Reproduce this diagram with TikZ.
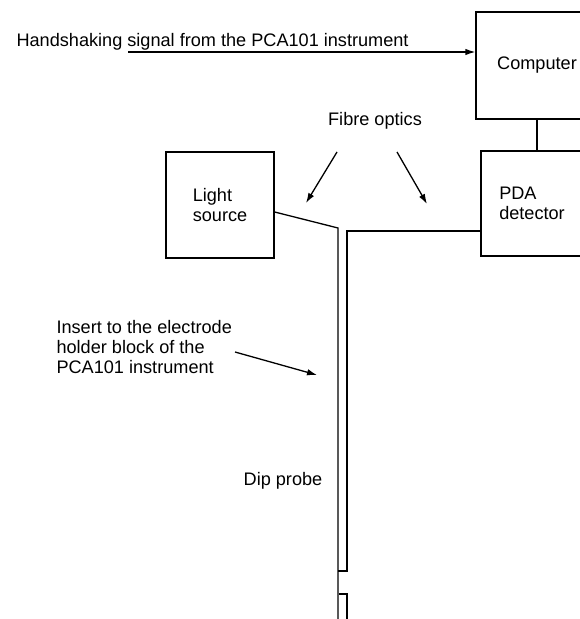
\documentclass[tikz,border=0pt]{standalone}
\usepackage{fontspec}
\setmainfont{Liberation Sans}
\usetikzlibrary{arrows.meta,positioning}

\begin{document}
\begin{tikzpicture}[
    x=1bp, y=-1bp,
    every node/.style={font=\fontsize{18.2}{20}\selectfont},
    box/.style={draw, line width=1.3bp, align=left, inner sep=0pt},
    arr/.style={-{Latex[length=10bp, width=6.5bp]}, line width=1.3bp},
    fibre/.style={line width=1.3bp}
]
\useasboundingbox (0,0) rectangle (580,619);
\clip (0,0) rectangle (580,619);
\node[box, minimum width=108bp, minimum height=106bp] (light) at (220,205) {Light\\source};
\node[box, minimum width=122bp, minimum height=107bp] (computer) at (537,65.5) {Computer};
\node[box, minimum width=102bp, minimum height=105bp] (pda) at (532,203.5) {PDA\\detector};
\node[anchor=west] (hand) at (13,42) {Handshaking signal from the PCA101 instrument};
\node (fibretext) at (375,121) {Fibre optics};
\node[align=left, anchor=west] (insert) at (53,347) {Insert to the electrode\\holder block of the\\PCA101 instrument};
\node (dip) at (283,481) {Dip probe};
\coordinate (hs) at (128,52);
\draw[arr] (hs) -- (hs -| computer.west);
\draw[fibre] (computer.south) -- (computer.south |- pda.north);
\draw[arr] (337,152) -- (306,203);
\draw[arr] (397,152) -- (427,204);
\draw[arr] (235,352) -- (317,375);
% dip probe
\draw[fibre] ([yshift=-7bp]light.east) -- (338,228) -- (338,619);
\draw[fibre] (pda.west |- 0,231) -- (347,231) -- (347,571) -- (338,571);
\draw[fibre] (339,594) -- (347,594) -- (347,619);
\end{tikzpicture}
\end{document}
